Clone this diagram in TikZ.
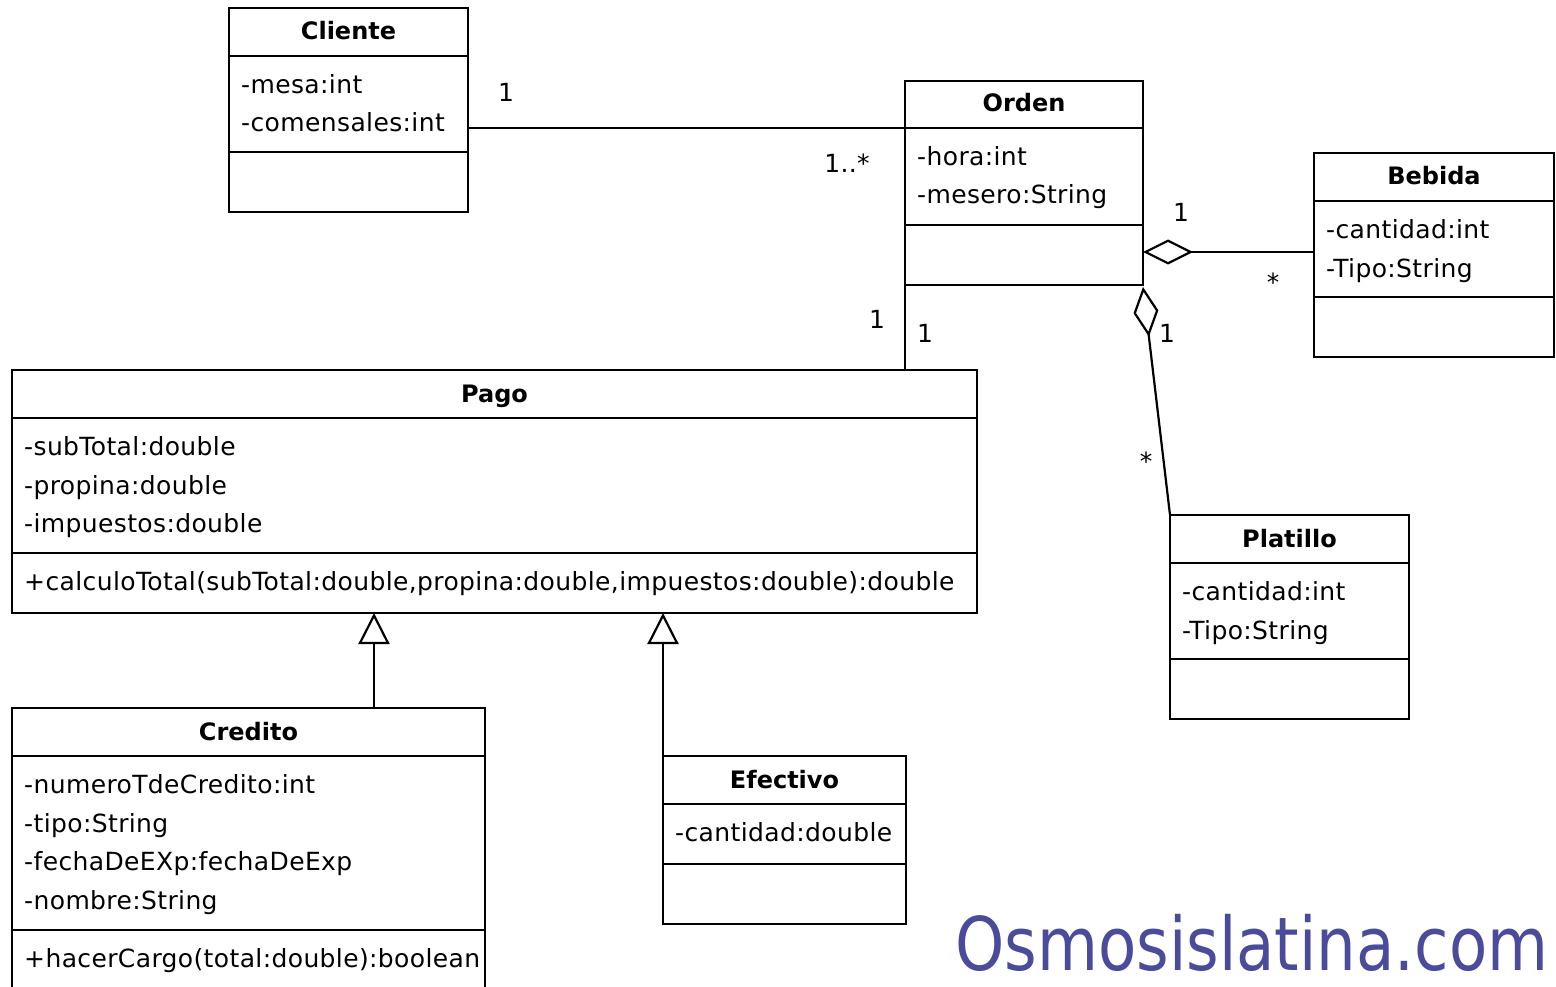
\documentclass[tikz,border=0pt]{standalone}
\usepackage{fontspec}
\setmainfont{DejaVu Sans}
\newfontfamily\umlfont{DejaVu Sans}[LetterSpace=1.5]
\usetikzlibrary{arrows.meta,calc}
\definecolor{wmark}{RGB}{75,75,155}
\tikzset{
  cls/.style={draw, line width=2.2pt, anchor=north west, inner sep=0pt, outer sep=0pt},
  ttl/.style={anchor=base, inner sep=0pt, font=\fontsize{24}{28}\selectfont\bfseries},
  attr/.style={anchor=base west, inner sep=0pt, font=\fontsize{25}{28}\umlfont},
  mult/.style={inner sep=0pt, font=\fontsize{25}{28}\umlfont},
  link/.style={line width=2.2pt},
  aggr/.style={link, -{Diamond[open, length=50pt, width=25pt, line width=2.2pt]}},
  gen/.style={link, -{Triangle[open, length=31pt, width=31pt, line width=2.2pt]}},
}
\begin{document}
\begin{tikzpicture}[x=1pt, y=-1pt]
\clip (0,0) rectangle (1556,987);
\fill[white] (0,0) rectangle (1556,987);

% ---- Cliente ----
\node[cls, minimum width=239pt, minimum height=204pt] (cliente) at (229,8) {};
\draw[link] (cliente.west |- 0,56) -- (cliente.east |- 0,56);
\draw[link] (cliente.west |- 0,152) -- (cliente.east |- 0,152);
\node[ttl] (clienteT) at (348.5,40) {Cliente};
\node[attr] (clienteA1) at (241,94) {-mesa:int};
\node[attr] (clienteA2) at (241,132) {-comensales:int};

% ---- Orden ----
\node[cls, minimum width=238pt, minimum height=204pt] (orden) at (905,81) {};
\draw[link] (orden.west |- 0,128) -- (orden.east |- 0,128);
\draw[link] (orden.west |- 0,225) -- (orden.east |- 0,225);
\node[ttl] (ordenT) at (1024,112) {Orden};
\node[attr] (ordenA1) at (917,166) {-hora:int};
\node[attr] (ordenA2) at (917,204) {-mesero:String};

% ---- Bebida ----
\node[cls, minimum width=240pt, minimum height=204pt] (bebida) at (1314,153) {};
\draw[link] (bebida.west |- 0,201) -- (bebida.east |- 0,201);
\draw[link] (bebida.west |- 0,297) -- (bebida.east |- 0,297);
\node[ttl] (bebidaT) at (1434,185) {Bebida};
\node[attr] (bebidaA1) at (1326,239) {-cantidad:int};
\node[attr] (bebidaA2) at (1326,277) {-Tipo:String};

% ---- Pago ----
\node[cls, minimum width=965pt, minimum height=243pt] (pago) at (12,370) {};
\draw[link] (pago.west |- 0,418) -- (pago.east |- 0,418);
\draw[link] (pago.west |- 0,553) -- (pago.east |- 0,553);
\node[ttl] (pagoT) at (494.5,402) {Pago};
\node[attr] (pagoA1) at (24,455) {-subTotal:double};
\node[attr] (pagoA2) at (24,494) {-propina:double};
\node[attr] (pagoA3) at (24,532) {-impuestos:double};
\node[attr] (pagoM1) at (24,590) {+calculoTotal(subTotal:double,propina:double,impuestos:double):double};

% ---- Credito ----
\node[cls, minimum width=473pt, minimum height=320pt] (credito) at (12,708) {};
\draw[link] (credito.west |- 0,756) -- (credito.east |- 0,756);
\draw[link] (credito.west |- 0,930) -- (credito.east |- 0,930);
\node[ttl] (creditoT) at (248.5,740) {Credito};
\node[attr] (creditoA1) at (24,793) {-numeroTdeCredito:int};
\node[attr] (creditoA2) at (24,832) {-tipo:String};
\node[attr] (creditoA3) at (24,870) {-fechaDeEXp:fechaDeExp};
\node[attr] (creditoA4) at (24,909) {-nombre:String};
\node[attr] (creditoM1) at (24,967) {+hacerCargo(total:double):boolean};

% ---- Efectivo ----
\node[cls, minimum width=243pt, minimum height=168pt] (efectivo) at (663,756) {};
\draw[link] (efectivo.west |- 0,804) -- (efectivo.east |- 0,804);
\draw[link] (efectivo.west |- 0,864) -- (efectivo.east |- 0,864);
\node[ttl] (efectivoT) at (784.5,788) {Efectivo};
\node[attr] (efectivoA1) at (675,841) {-cantidad:double};

% ---- Platillo ----
\node[cls, minimum width=239pt, minimum height=204pt] (platillo) at (1170,515) {};
\draw[link] (platillo.west |- 0,563) -- (platillo.east |- 0,563);
\draw[link] (platillo.west |- 0,659) -- (platillo.east |- 0,659);
\node[ttl] (platilloT) at (1289.5,547) {Platillo};
\node[attr] (platilloA1) at (1182,600) {-cantidad:int};
\node[attr] (platilloA2) at (1182,639) {-Tipo:String};

% ---- associations ----
\coordinate (co) at (0,128);
\draw[link] (cliente.east |- co) -- (orden.west |- co);
\node[mult] (m1) at (506,92) {1};
\node[mult] (m2) at (847,163) {1..*};

\draw[link] (orden.south west) -- (orden.south west |- pago.north);
\node[mult] (m3) at (877,319) {1};
\node[mult] (m4) at (925,333) {1};

\coordinate (ob) at (0,252);
\draw[aggr] (bebida.west |- ob) -- (orden.east |- ob);
\node[mult] (m5) at (1181,212) {1};
\node[mult] (m6) at (1273,282) {*};

\coordinate (op) at (1143,287);
\draw[aggr] (platillo.north west) -- (op);
\node[mult] (m7) at (1167,333) {1};
\node[mult] (m8) at (1146,461) {*};

% ---- generalizations ----
\coordinate (g1) at (374,0);
\draw[gen] (credito.north -| g1) -- (pago.south -| g1);
\draw[gen] (efectivo.north west) -- (efectivo.north west |- pago.south);

% ---- watermark ----
\node[anchor=base west, inner sep=0pt, text=wmark, font=\fontsize{74}{80}\selectfont] (wm) at (955,970) {\scalebox{0.846}[1]{Osmosislatina.com}};
\end{tikzpicture}
\end{document}
